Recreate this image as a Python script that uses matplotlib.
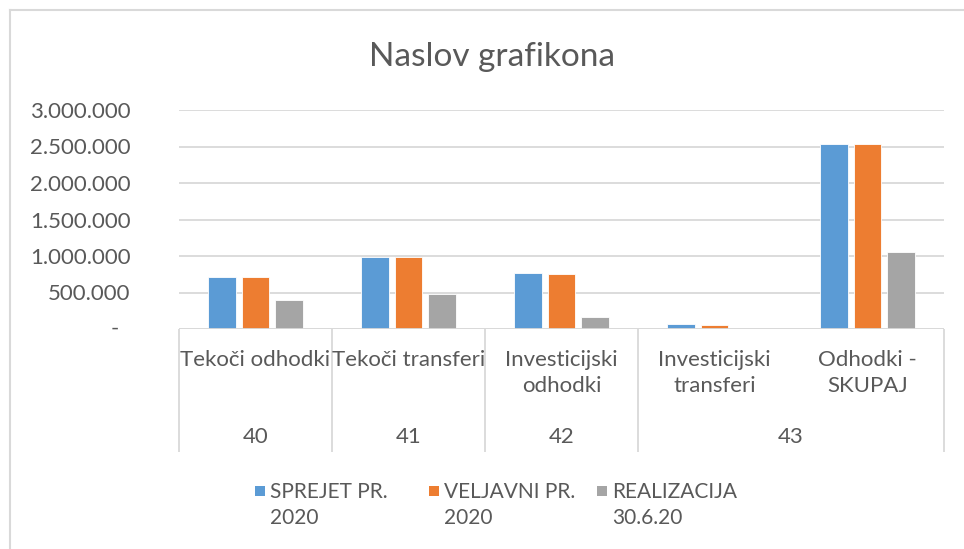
import matplotlib.pyplot as plt
import matplotlib.transforms as mtransforms
from matplotlib.patches import Rectangle
from matplotlib.lines import Line2D

plt.rcParams["font.family"] = ["Lato", "DejaVu Sans"]

# data
categories = ["Tekoči odhodki", "Tekoči transferi", "Investicijski\nodhodki",
              "Investicijski\ntransferi", "Odhodki -\nSKUPAJ"]
groups = ["40", "41", "42", "43"]
group_spans = [(0, 0), (1, 1), (2, 2), (3, 4)]
series = ["SPREJET PR.\n2020", "VELJAVNI PR.\n2020", "REALIZACIJA\n30.6.20"]
sprejet = [715000, 985000, 770000, 65000, 2535000]
veljavni = [715000, 985000, 755000, 60000, 2535000]
realizacija = [395000, 485000, 165000, 0, 1060000]
yticks = [0, 500000, 1000000, 1500000, 2000000, 2500000, 3000000]

colors = ["#5B9BD5", "#ED7D31", "#A5A5A5"]
text_col = "#595959"
grid_col = "#D9D9D9"

W, H = 964, 549
fig = plt.figure(figsize=(W / 100, H / 100), dpi=100)
ax = fig.add_axes([179 / W, 1 - 329 / H, (944 - 179) / W, (329 - 110) / H])

pitch = 0.219
width = 0.178
for i, vals in enumerate([sprejet, veljavni, realizacija]):
    xs = [c + (i - 1) * pitch for c in range(len(categories))]
    ax.bar(xs, vals, width=width, color=colors[i], edgecolor="white", linewidth=0.6, zorder=3)

ax.set_xlim(-0.5, len(categories) - 0.5)
ax.set_ylim(0, 3000000)
ax.set_yticks(yticks)
ax.set_yticklabels([f"{v:,}".replace(",", ".") if v else "" for v in yticks],
                   fontsize=16, color=text_col)
ax.tick_params(axis="y", length=0, pad=35)
ax.tick_params(axis="x", length=0, labelbottom=False)
ax.grid(axis="y", color=grid_col, linewidth=1.3, zorder=0)
for s in ax.spines.values():
    s.set_visible(False)
ax.axhline(0, color=grid_col, linewidth=1.3, zorder=4)
# zero label as in Excel accounting format
ax.text((115 - 179) / 765, 0, "-", transform=mtransforms.blended_transform_factory(ax.transAxes, ax.transData),
        ha="center", va="center", fontsize=16, color=text_col)

# multi-level category axis
trans = mtransforms.blended_transform_factory(ax.transData, ax.transAxes)
seps = [-0.5] + [g[1] + 0.5 for g in group_spans]
ax.vlines(seps, -(452 - 329) / 219, 0, transform=trans, colors=grid_col, linewidth=1.3, clip_on=False)
for c, lab in enumerate(categories):
    ax.text(c, -(350 - 329) / 219, lab, transform=trans, ha="center", va="top",
            fontsize=16, color=text_col, linespacing=1.35)
for g, (a, b) in zip(groups, group_spans):
    ax.text((a + b) / 2, -(437 - 329) / 219, g, transform=trans, ha="center", va="center",
            fontsize=16, color=text_col)

# title
fig.text(492 / W, 1 - 57 / H, "Naslov grafikona", ha="center", va="center", fontsize=24, color=text_col)

# legend
leg_x = [255, 429, 597]
for i, lab in enumerate(series):
    fig.patches.append(Rectangle((leg_x[i] / W, 1 - 496 / H), 10 / W, 10 / H,
                                 transform=fig.transFigure, facecolor=colors[i], edgecolor="none"))
    fig.text((leg_x[i] + 15) / W, 1 - 482 / H, lab, ha="left", va="top", fontsize=15,
             color=text_col, linespacing=1.35)

# chart border (top and left visible)
fig.add_artist(Line2D([10 / W, 10 / W], [0, 1 - 10 / H], transform=fig.transFigure, color=grid_col, linewidth=1.5))
fig.add_artist(Line2D([10 / W, 1], [1 - 10 / H, 1 - 10 / H], transform=fig.transFigure, color=grid_col, linewidth=1.5))

fig.savefig("out.png", dpi=100, facecolor="white")
